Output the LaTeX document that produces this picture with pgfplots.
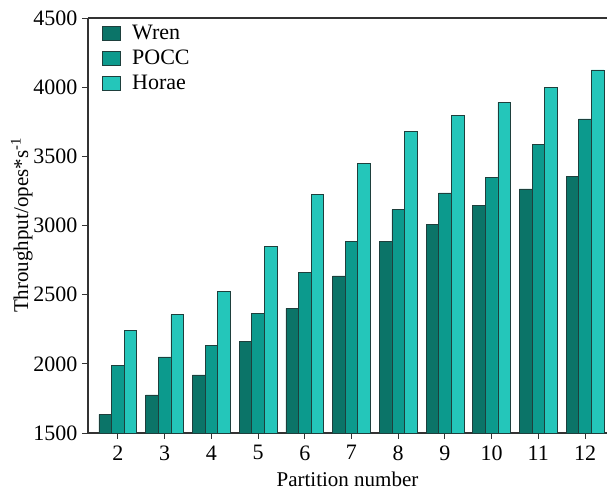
\documentclass[border=0pt]{standalone}
\usepackage{fontspec}
\setmainfont{Liberation Serif}
\usepackage{pgfplots}
\pgfplotsset{compat=1.18}
\definecolor{cWren}{HTML}{0B7468}
\definecolor{cPOCC}{HTML}{0C9A8D}
\definecolor{cHorae}{HTML}{24C6BA}
\definecolor{cEdge}{HTML}{1E3F3C}
\begin{document}
\begin{tikzpicture}
\begin{axis}[
  scale only axis, clip=false,
  width=519pt, height=415pt,
  xmin=1.36, xmax=12.47,
  ymin=1500, ymax=4500,
  ybar=0pt, bar width=12.6pt,
  axis y line*=left,
  xtick={2,3,4,5,6,7,8,9,10,11,12},
  ytick={1500,2000,2500,3000,3500,4000,4500},
  xtick pos=bottom, ytick pos=left,
  tick align=outside,
  major tick length=6pt,
  tick style={line width=0.9pt, color=black!80},
  axis line style={line width=1.2pt, color=black!80},
  /pgf/number format/assume math mode=true,
  /pgf/number format/1000 sep={},
  tick label style={font=\fontsize{22}{26}\selectfont},
  xticklabel style={yshift=-3pt},
  yticklabel style={xshift=-1pt},
  label style={font=\fontsize{21}{25}\selectfont},
  xlabel={Partition number},
  ylabel={Throughput/opes*s\textsuperscript{-1}},
  xlabel style={yshift=-5pt},
  ylabel style={yshift=-6pt},
  legend style={at={(0.02,0.993)}, anchor=north west, draw=none, fill=none,
    font=\fontsize{22}{26}\selectfont, row sep=5pt,
    /tikz/every even column/.append style={column sep=0pt},
    /tikz/every odd column/.append style={column sep=10pt}},
  legend cell align=left,
  legend image code/.code={\draw[#1, draw=cEdge, line width=0.6pt] (-2pt,-7pt) rectangle (16pt,7pt);},
  every axis plot/.append style={draw=cEdge, line width=0.6pt},
]
\addplot[fill=cWren] coordinates {(2,1635) (3,1775) (4,1920) (5,2160) (6,2400) (7,2635) (8,2885) (9,3010) (10,3145) (11,3265) (12,3355)};
\addplot[fill=cPOCC] coordinates {(2,1990) (3,2050) (4,2135) (5,2365) (6,2660) (7,2885) (8,3115) (9,3235) (10,3345) (11,3585) (12,3770)};
\addplot[fill=cHorae] coordinates {(2,2240) (3,2355) (4,2525) (5,2850) (6,3225) (7,3450) (8,3680) (9,3795) (10,3890) (11,4000) (12,4125)};
\legend{Wren,POCC,Horae}
\path (rel axis cs:0,1) ++(-88pt,18pt);
\path (rel axis cs:1,0) ++(1pt,-61pt);
\end{axis}
\end{tikzpicture}
\end{document}
